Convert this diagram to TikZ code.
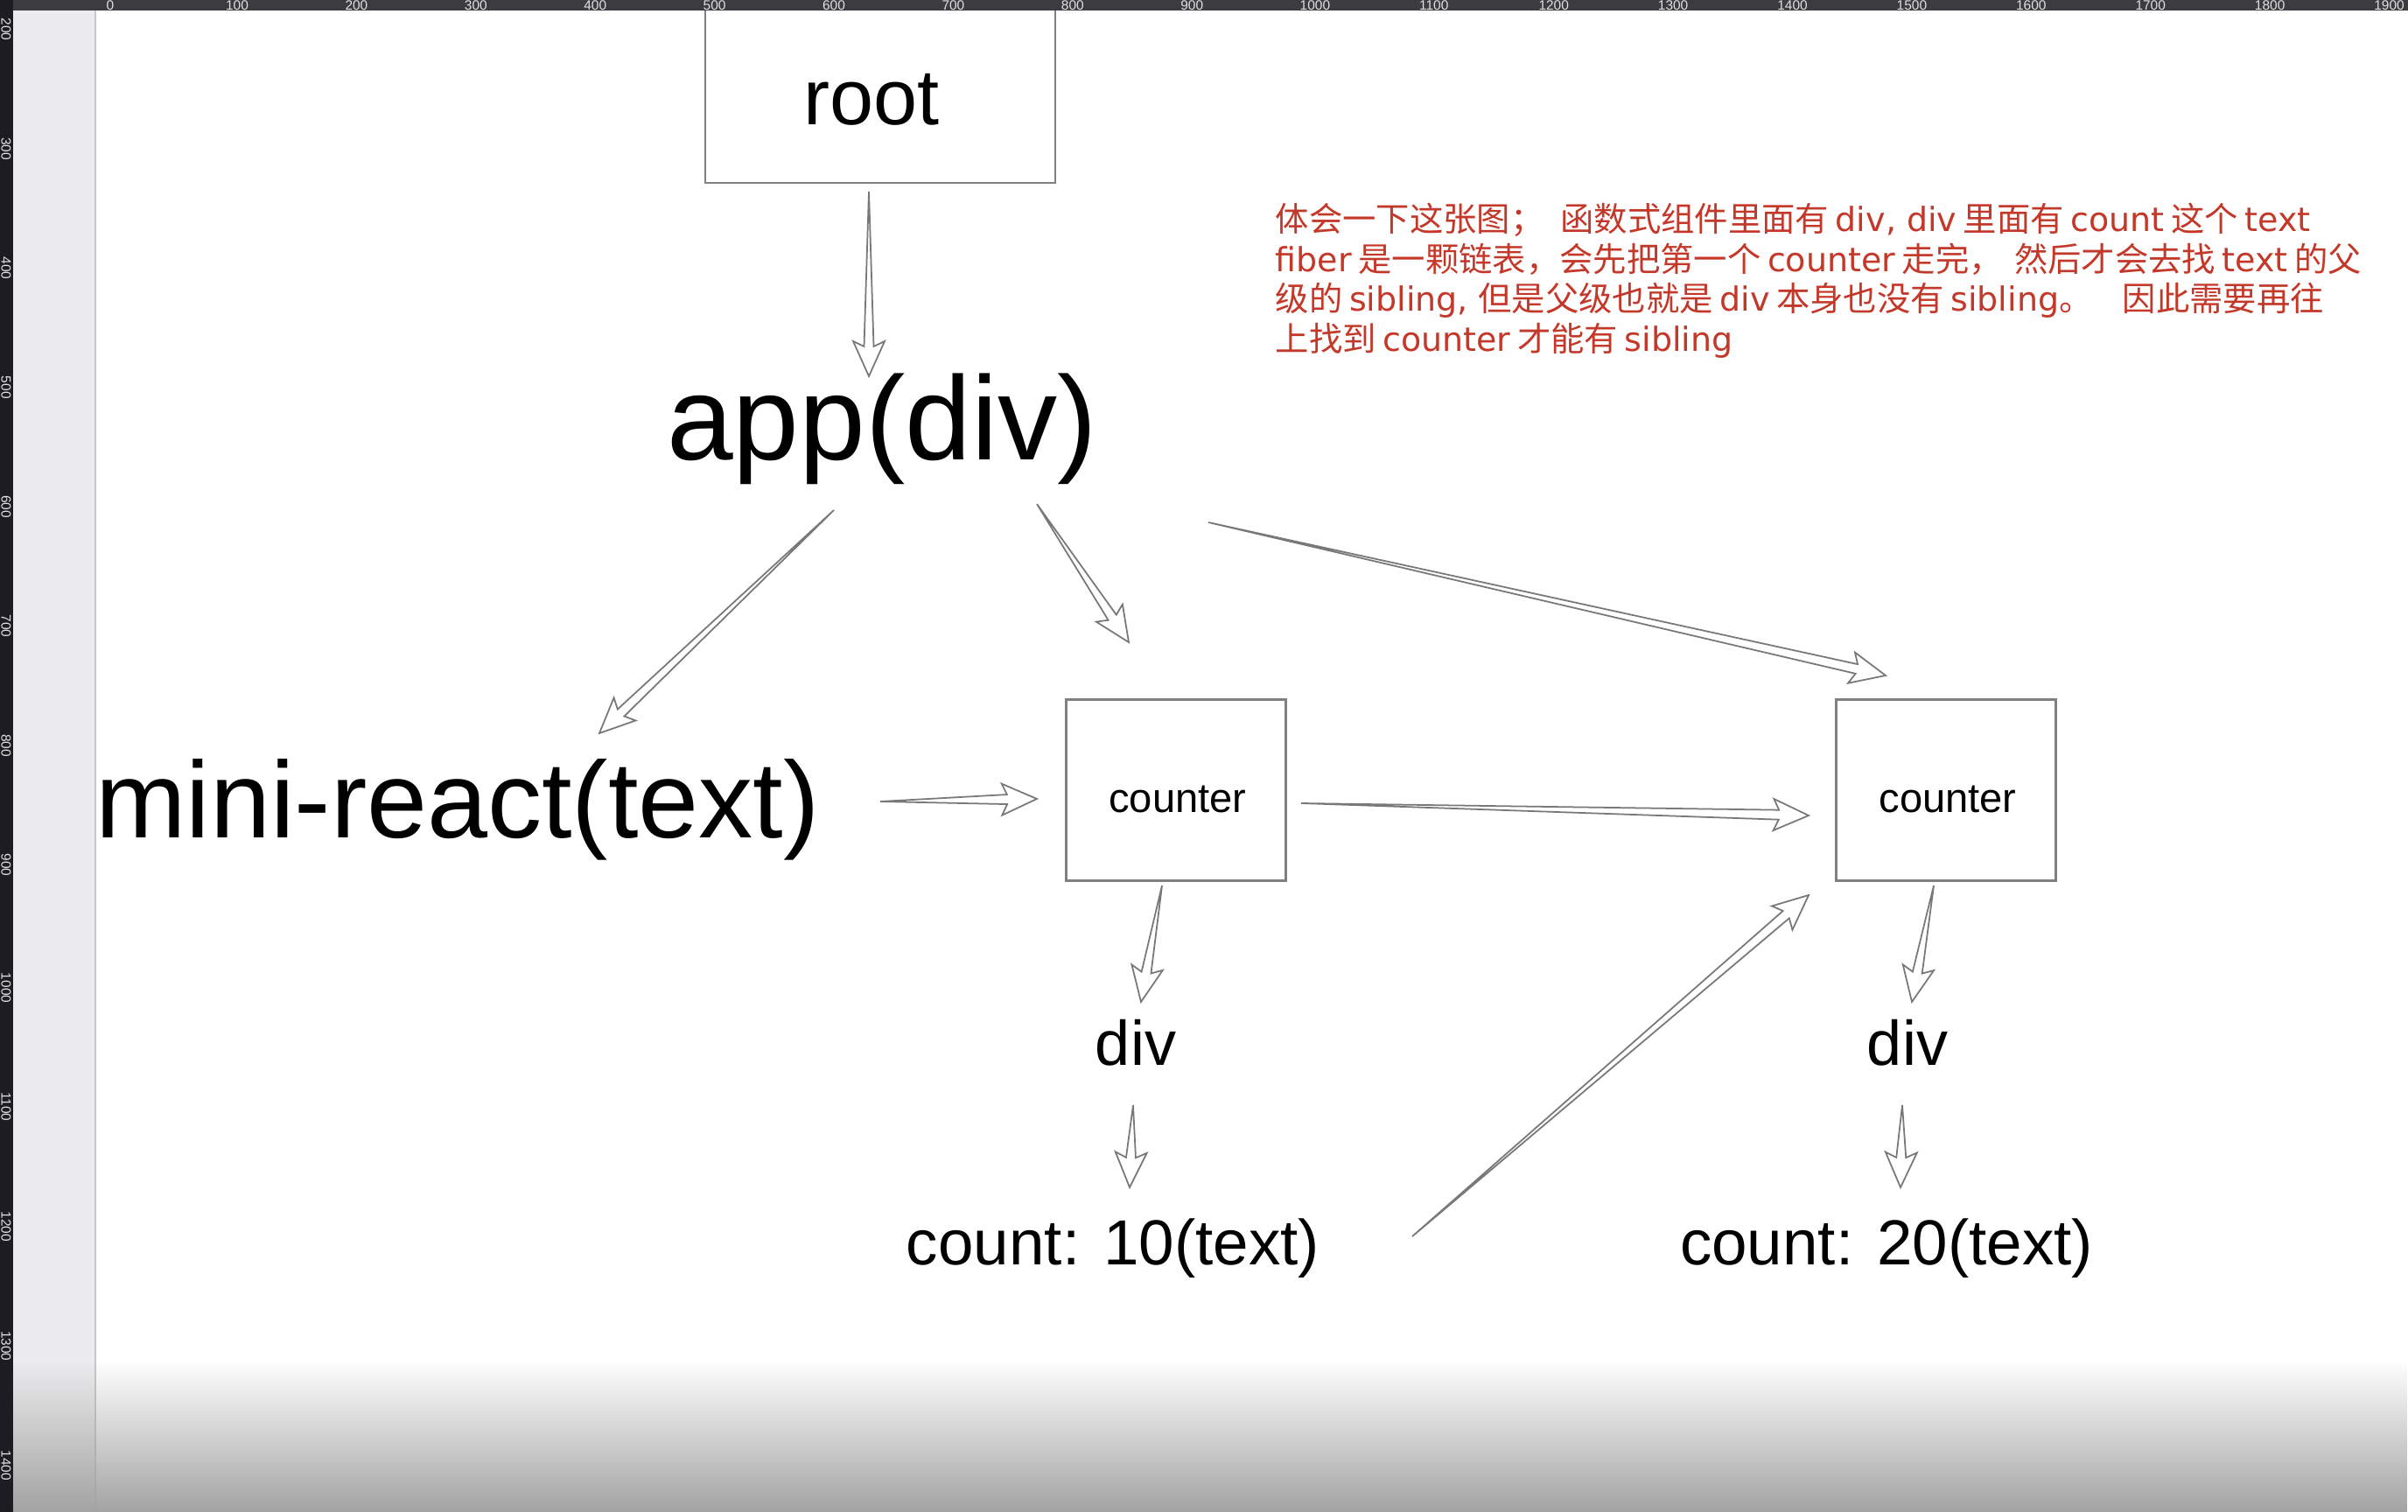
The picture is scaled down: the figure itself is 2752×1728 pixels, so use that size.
\documentclass[tikz,border=0pt]{standalone}
\usepackage{fontspec}
\setmainfont{Liberation Sans}
\newfontfamily\cjk{Noto Sans CJK SC}
\newfontfamily\notelat{DejaVu Sans}
\usetikzlibrary{calc,fadings}
\definecolor{rulerdark}{RGB}{60,60,64}
\definecolor{rulerleft}{RGB}{28,28,34}
\definecolor{strip}{RGB}{236,236,238}
\definecolor{notered}{RGB}{196,56,42}
\definecolor{edge}{RGB}{120,120,120}
\newcommand\pxfont[1]{\fontsize{#1}{#1}\selectfont}
\newcommand\lat[1]{{\notelat\fontsize{10.8pt}{10.8pt}\selectfont #1}}
\newcommand\gp{\hspace{0.2em}}
\newcommand\warrow[3]{%
  \coordinate (#3-h) at ($(#2)!0.34cm!(#1)$);
  \coordinate (#3-b) at ($(#2)!0.40cm!(#1)$);
  \coordinate (#3-s1) at ($(#3-h)!0.055cm!90:(#2)$);
  \coordinate (#3-s2) at ($(#3-h)!0.055cm!-90:(#2)$);
  \coordinate (#3-w1) at ($(#3-b)!0.18cm!90:(#2)$);
  \coordinate (#3-w2) at ($(#3-b)!0.18cm!-90:(#2)$);
  \draw[wedge] (#1) -- (#3-s1) -- (#3-w1) -- (#2) -- (#3-w2) -- (#3-s2) -- cycle;
}
\tikzset{
  wedge/.style={draw=edge, fill=white, line width=0.5pt, line join=miter},
  boxnode/.style={draw=black!50, line width=0.75pt, fill=white, inner sep=0pt},
  lbl/.style={anchor=base, inner sep=0pt, text=black},
  note/.style={anchor=base west, inner sep=0pt, text=notered, font=\cjk\pxfont{10.9pt}},
  rulnum/.style={inner sep=0pt, text=black!12, font=\pxfont{4.4pt}}
}
\begin{document}
\begin{tikzpicture}[x=0.01cm, y=-0.01cm]
\useasboundingbox (0,0) rectangle (2752,1728);
% canvas
\fill[white] (0,0) rectangle (2752,1728);
\fill[strip] (15,0) rectangle (109,1728);
\draw[black!22, line width=0.6pt] (109,0) -- (109,1728);
% bottom gradient
\fill[black!36, path fading=north] (15,1555) rectangle (2752,1728);

% nodes
\node[boxnode, minimum width=4cm, minimum height=2.2cm] (rootbox) at (1006,99) {};
\node[boxnode, minimum width=2.51cm, minimum height=2.07cm] (c1box) at (1344,903) {};
\node[boxnode, minimum width=2.51cm, minimum height=2.07cm] (c2box) at (2224,903) {};
\node[lbl, font=\pxfont{25.6pt}] (root) at (996,143) {root};
\node[lbl, font=\pxfont{38.7pt}] (app) at (1008,526) {app(div)};
\node[lbl, font=\pxfont{35.3pt}] (mini) at (523,957) {mini-react(text)};
\node[lbl, font=\pxfont{13.4pt}] (c1) at (1346,928) {counter};
\node[lbl, font=\pxfont{13.4pt}] (c2) at (2226,928) {counter};
\node[lbl, font=\pxfont{20.5pt}] (div1) at (1298,1217) {div};
\node[lbl, font=\pxfont{20.5pt}] (div2) at (2180,1217) {div};
\node[lbl, font=\pxfont{20.7pt}] (cnt1) at (1272,1445) {count: 10(text)};
\node[lbl, font=\pxfont{20.7pt}] (cnt2) at (2156,1445) {count: 20(text)};

% note
\node[note] (n1) at (1457,265) {体会一下这张图；\hspace{0.5em}函数式组件里面有\gp\lat{div, div}\gp 里面有\gp\lat{count}\gp 这个\gp\lat{text}};
\node[note] (n2) at (1457,311) {\lat{fiber}\gp 是一颗链表，会先把第一个\gp\lat{counter}\gp 走完，\hspace{0.35em}然后才会去找\gp\lat{text}\gp 的父};
\node[note] (n3) at (1457,356) {级的\gp\lat{sibling,}\hspace{0.3em}但是父级也就是\gp\lat{div}\gp 本身也没有\gp\lat{sibling}。\hspace{0.9em}因此需要再往};
\node[note] (n4) at (1457,402) {上找到\gp\lat{counter}\gp 才能有\gp\lat{sibling}};

% connector end points
\coordinate (root-o) at (993,219);
\coordinate (app-i) at (993,430);
\coordinate (app-o1) at (953,583);
\coordinate (mini-i) at (685,838);
\coordinate (app-o2) at (1185,576);
\coordinate (c1-i1) at (1290,734);
\coordinate (app-o3) at (1381,597);
\coordinate (c2-i1) at (2155,772);
\coordinate (mini-o) at (1006,916);
\coordinate (c1-i2) at (1185,913);
\coordinate (c1-o1) at (1487,918);
\coordinate (c2-i2) at (2067,932);
\coordinate (c1-o2) at (1328,1012);
\coordinate (div1-i) at (1304,1145);
\coordinate (div1-o) at (1295,1263);
\coordinate (cnt1-i) at (1291,1357);
\coordinate (cnt1-o) at (1614,1413);
\coordinate (c2-i3) at (2067,1023);
\coordinate (c2-o) at (2210,1012);
\coordinate (div2-i) at (2185,1145);
\coordinate (div2-o) at (2174,1263);
\coordinate (cnt2-i) at (2172,1357);

\warrow{root-o}{app-i}{a1}
\warrow{app-o1}{mini-i}{a2}
\warrow{app-o2}{c1-i1}{a3}
\warrow{app-o3}{c2-i1}{a4}
\warrow{mini-o}{c1-i2}{a5}
\warrow{c1-o1}{c2-i2}{a6}
\warrow{c1-o2}{div1-i}{a7}
\warrow{div1-o}{cnt1-i}{a8}
\warrow{cnt1-o}{c2-i3}{a9}
\warrow{c2-o}{div2-i}{a10}
\warrow{div2-o}{cnt2-i}{a11}

% rulers
\fill[rulerdark] (0,0) rectangle (2752,12);
\fill[rulerleft] (0,0) rectangle (15,1728);
\foreach \i in {0,...,19} {
  \pgfmathtruncatemacro\lab{\i*100}
  \node[rulnum, anchor=west] (tr\i) at ({121+\i*136.4},6) {\lab};
}
\foreach \j in {2,...,14} {
  \pgfmathtruncatemacro\lab{\j*100}
  \node[rulnum, anchor=west, rotate=-90] (lr\j) at (7,{20+(\j-2)*136.4}) {\lab};
}
\end{tikzpicture}
\end{document}
